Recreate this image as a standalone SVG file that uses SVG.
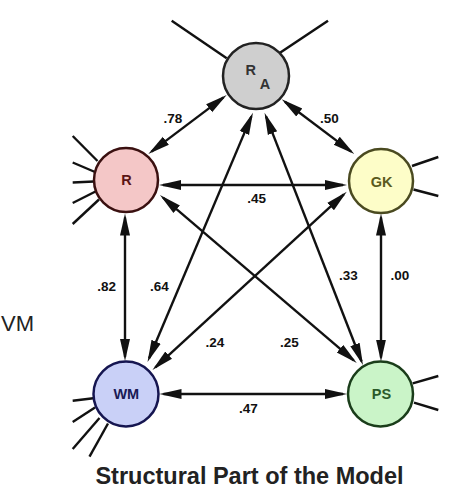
<svg xmlns="http://www.w3.org/2000/svg" width="470" height="500" viewBox="0 0 470 500">
<style>
.node circle{stroke-width:2.5}
.nl{font-family:"Liberation Sans",Arial,sans-serif;font-weight:bold;font-size:14.5px;text-anchor:middle}
.el{font-family:"Liberation Sans",Arial,sans-serif;font-weight:bold;font-size:13.5px;text-anchor:middle;fill:#111}
.c line{stroke:#111;stroke-width:2.4;fill:none;marker-start:url(#ah);marker-end:url(#ah)}
.ind line{stroke:#111;stroke-width:2.4}
</style>
<defs>
<marker id="ah" markerUnits="userSpaceOnUse" markerWidth="24" markerHeight="12" viewBox="0 0 24 12" refX="18" refY="6" orient="auto-start-reverse">
<path d="M0,1 L22,6 L0,11 z" fill="#111"/>
</marker>
</defs>
<rect width="470" height="500" fill="#fff"/>

<g id="indicators" class="ind">
<line x1="171.7" y1="20.7" x2="226.7" y2="58.3"/>
<line x1="328" y1="20.7" x2="280" y2="52.7"/>
<line x1="72.7" y1="136" x2="97.5" y2="161"/>
<line x1="72.7" y1="162.5" x2="95" y2="172"/>
<line x1="72.7" y1="182.5" x2="94" y2="181.5"/>
<line x1="72.7" y1="203" x2="95.5" y2="191.5"/>
<line x1="72.7" y1="224" x2="99" y2="199.5"/>
<line x1="72.7" y1="400.7" x2="93.3" y2="398.3"/>
<line x1="72.7" y1="422" x2="95" y2="407.5"/>
<line x1="72.7" y1="449" x2="99.5" y2="418"/>
<line x1="89.5" y1="456.7" x2="108" y2="423.5"/>
<line x1="412" y1="166" x2="438.3" y2="157"/>
<line x1="413.5" y1="189.5" x2="438.3" y2="196"/>
<line x1="412.7" y1="383.3" x2="438.3" y2="376"/>
<line x1="414" y1="402.7" x2="438.3" y2="410"/>
</g>

<g id="connectors" class="c">
<line x1="151.5" y1="151.6" x2="223.5" y2="97.4"/>
<line x1="284.9" y1="101.7" x2="351.1" y2="151.6"/>
<line x1="163" y1="185" x2="343" y2="185"/>
<line x1="125" y1="217.5" x2="125" y2="357"/>
<line x1="381" y1="217.5" x2="381" y2="357.5"/>
<line x1="163.5" y1="394" x2="343" y2="394"/>
<line x1="149.1" y1="358.3" x2="251.4" y2="116.4"/>
<line x1="361.5" y1="361.3" x2="266" y2="116.4"/>
<line x1="155.4" y1="367.3" x2="343.8" y2="194.4"/>
<line x1="163" y1="197.6" x2="353.7" y2="360.4"/>
</g>

<g id="edge-labels">
<text class="el" x="173" y="122.5">.78</text>
<text class="el" x="329.3" y="122.5">.50</text>
<text class="el" x="256.7" y="202.5">.45</text>
<text class="el" x="106.7" y="291">.82</text>
<text class="el" x="159.3" y="291">.64</text>
<text class="el" x="348.3" y="280">.33</text>
<text class="el" x="400" y="280">.00</text>
<text class="el" x="215" y="347">.24</text>
<text class="el" x="289.3" y="347">.25</text>
<text class="el" x="248.3" y="413">.47</text>
</g>

<g id="node-RA" class="node">
<circle cx="256" cy="76" r="33" fill="#cfcfcf" stroke="#222"/>
<text class="nl" x="250.7" y="75" fill="#333">R</text>
<text class="nl" x="265" y="89" fill="#333">A</text>
</g>
<g id="node-R" class="node">
<circle cx="126" cy="180" r="32" fill="#f4c7c7" stroke="#3a1010"/>
<text class="nl" x="126.5" y="184.5" fill="#5a1515">R</text>
</g>
<g id="node-GK" class="node">
<circle cx="381" cy="181" r="32" fill="#fdfdc8" stroke="#4a4a20"/>
<text class="nl" x="381.5" y="186.5" fill="#5a5a20">GK</text>
</g>
<g id="node-WM" class="node">
<circle cx="126" cy="394" r="32.5" fill="#c9d0f7" stroke="#151550"/>
<text class="nl" x="126.3" y="398.5" fill="#1a1a55">WM</text>
</g>
<g id="node-PS" class="node">
<circle cx="380.5" cy="394" r="32.5" fill="#caf4c8" stroke="#1a3d1a"/>
<text class="nl" x="381.5" y="398.5" fill="#2a5a2a">PS</text>
</g>

<text x="1" y="331" font-family="Liberation Sans,Arial,sans-serif" font-size="22" fill="#222">VM</text>
<text x="249.5" y="484" font-family="Liberation Sans,Arial,sans-serif" font-weight="bold" font-size="23.5" text-anchor="middle" fill="#222">Structural Part of the Model</text>
</svg>
